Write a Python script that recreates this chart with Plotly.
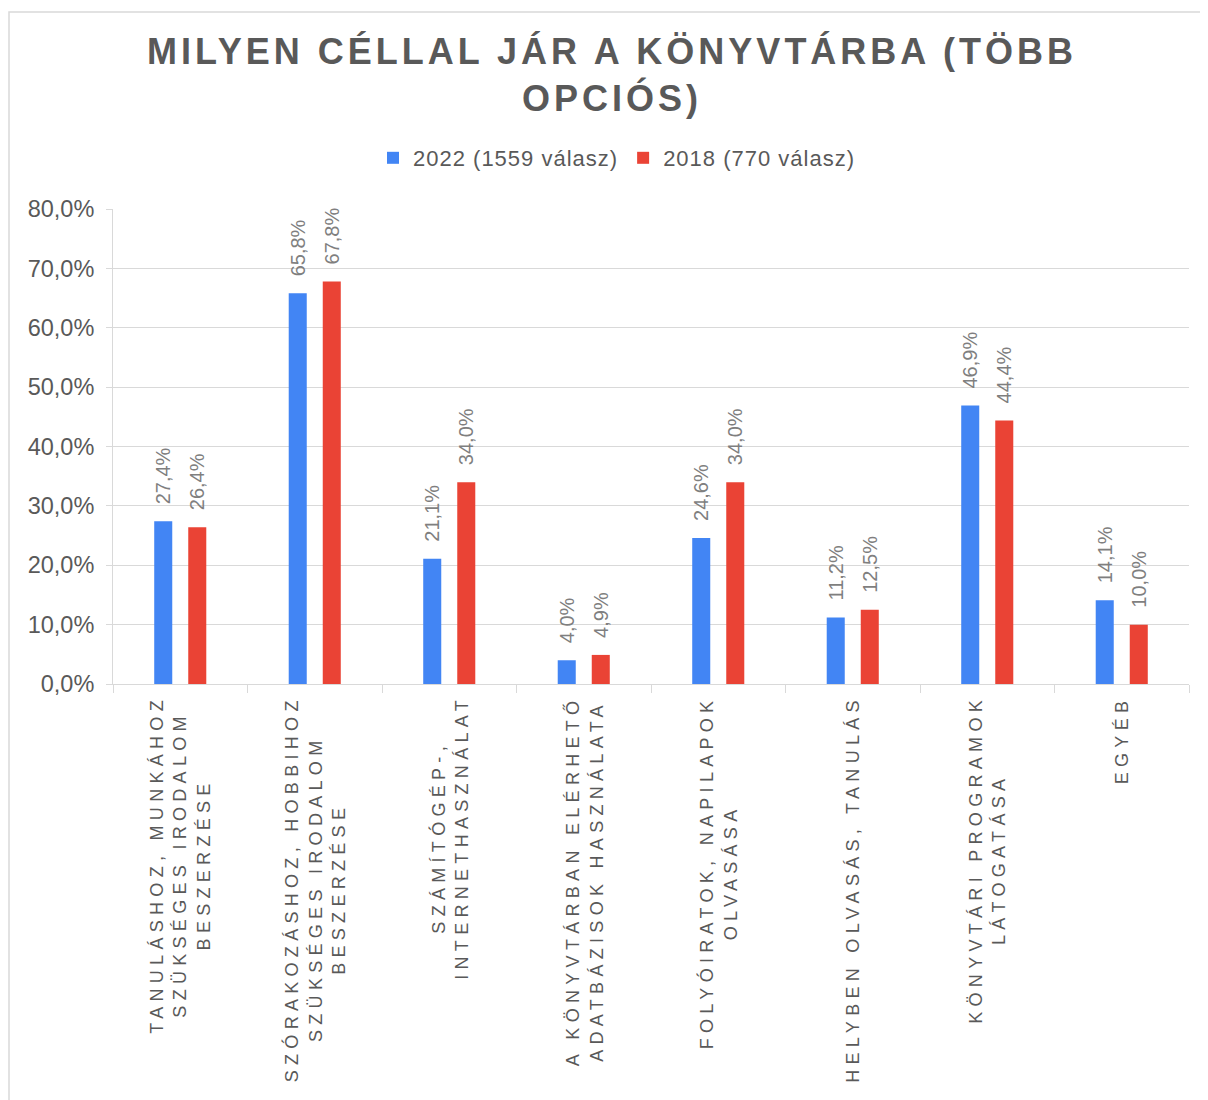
import plotly.graph_objects as go

categories = [
    "TANULÁSHOZ, MUNKÁHOZ<br>SZÜKSÉGES IRODALOM<br>BESZERZÉSE",
    "SZÓRAKOZÁSHOZ, HOBBIHOZ<br>SZÜKSÉGES IRODALOM<br>BESZERZÉSE",
    "SZÁMÍTÓGÉP-,<br>INTERNETHASZNÁLAT",
    "A KÖNYVTÁRBAN ELÉRHETŐ<br>ADATBÁZISOK HASZNÁLATA",
    "FOLYÓIRATOK, NAPILAPOK<br>OLVASÁSA",
    "HELYBEN OLVASÁS, TANULÁS",
    "KÖNYVTÁRI PROGRAMOK<br>LÁTOGATÁSA",
    "EGYÉB",
]
series_2022 = [27.4, 65.8, 21.1, 4.0, 24.6, 11.2, 46.9, 14.1]
series_2018 = [26.4, 67.8, 34.0, 4.9, 34.0, 12.5, 44.4, 10.0]
name_2022 = "2022 (1559 válasz)"
name_2018 = "2018 (770 válasz)"
title_lines = ["MILYEN CÉLLAL JÁR A KÖNYVTÁRBA (TÖBB", "OPCIÓS)"]

BLUE = "#4285F4"
RED = "#EA4335"
GRID = "#D9D9D9"
TXT = "#595959"
FONT = "Liberation Sans, Arial, sans-serif"


def spaced(s, px):
    return "<br>".join(
        f'<span style="letter-spacing:{px}px">{line}</span>' for line in s.split("<br>")
    )


W, H = 1200, 1092
L, R, T, B = 105, 19, 201, 416
pw, ph = W - L - R, H - T - B

fig = go.Figure()
for name, vals, col in [(name_2022, series_2022, BLUE), (name_2018, series_2018, RED)]:
    fig.add_trace(go.Bar(
        x=categories, y=vals, name=spaced(name, 1),
        marker=dict(color=col, line=dict(width=0)),
        # leading en + thin space keeps the rotated label clear of the bar top
        texttemplate="\u2002\u2009%{y:.1f}%",
        textposition="outside", textangle=-90, constraintext="none",
        cliponaxis=False,
        textfont=dict(family=FONT, size=20, color="#7F7F7F"),
    ))

annotations = []
for c in categories:
    annotations.append(dict(
        x=c, xref="x", y=-9 / ph, yref="paper",
        text=spaced(c, 5.3), textangle=-90, showarrow=False,
        xanchor="center", yanchor="top", align="center",
        font=dict(family=FONT, size=18, color=TXT),
    ))

title_html = "<br>".join(spaced(f"<b>{t}</b>", 4) for t in title_lines)

fig.update_layout(
    width=W, height=H,
    margin=dict(l=L, r=R, t=T, b=B),
    paper_bgcolor="white", plot_bgcolor="white",
    separators=",.",
    bargap=0.494, bargroupgap=0.47,
    title=dict(
        text=title_html,
        x=(612 - 8) / W, xref="container", xanchor="center",
        y=1 - 56 / H, yref="container", yanchor="middle",
        font=dict(family=FONT, size=36, color=TXT),
    ),
    legend=dict(
        orientation="h", x=(617 - 8) / W, xref="container", xanchor="center",
        y=1 - 150 / H, yref="container", yanchor="middle",
        font=dict(family=FONT, size=22, color=TXT),
        traceorder="normal",
    ),
    xaxis=dict(
        type="category", showticklabels=False, tickson="boundaries",
        ticks="outside", ticklen=8, tickcolor=GRID, tickwidth=1,
        showline=True, linecolor=GRID, linewidth=1, showgrid=False,
        zeroline=False,
    ),
    yaxis=dict(
        range=[0, 80], dtick=10, tickformat=".1f", ticksuffix="%",
        showgrid=True, gridcolor=GRID, gridwidth=1,
        ticks="outside", ticklen=6, tickcolor=GRID,
        showline=True, linecolor=GRID, zeroline=False,
        tickfont=dict(family=FONT, size=23.5, color=TXT),
        ticklabelstandoff=7,
    ),
    annotations=annotations,
    shapes=[dict(
        type="rect", xref="paper", yref="paper",
        x0=(1 - L) / pw, x1=(W + 20 - L) / pw,
        y0=-(H + 20 - T - ph) / ph, y1=(T + ph - 4) / ph,
        line=dict(color=GRID, width=1.5), fillcolor="rgba(0,0,0,0)", layer="below",
    )],
)

fig.write_html("out.html")
